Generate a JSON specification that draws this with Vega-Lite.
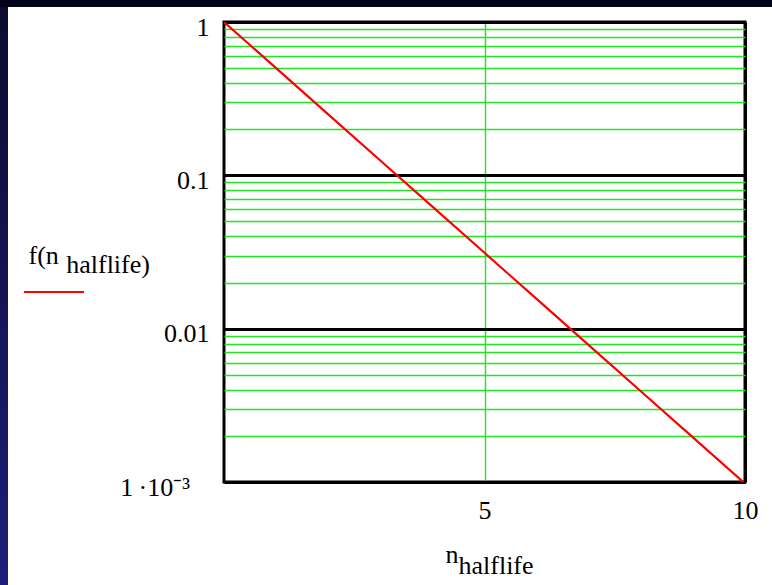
{
  "$schema": "https://vega.github.io/schema/vega-lite/v6.json",
  "padding": 0,
  "background": "white",
  "bounds": "flush",
  "spacing": 0,
  "vconcat": [
    {
      "width": 772,
      "height": 7,
      "data": {"values": [{"band": "top"}]},
      "mark": {"type": "rect", "fill": "#02021a", "strokeWidth": 0},
      "encoding": {}
    },
    {
      "bounds": "flush",
      "spacing": 216,
      "hconcat": [
        {
          "width": 8,
          "height": 578,
          "data": {"values": [{"band": "side"}]},
          "mark": {
            "type": "rect",
            "strokeWidth": 0,
            "fill": {
              "gradient": "linear",
              "x1": 0, "y1": 0, "x2": 0, "y2": 1,
              "stops": [
                {"offset": 0, "color": "#0b0b30"},
                {"offset": 1, "color": "#1e1e7a"}
              ]
            }
          },
          "encoding": {}
        },
        {
          "bounds": "flush",
          "spacing": 14,
          "vconcat": [
            {
              "width": 1,
              "height": 1,
              "data": {"values": []},
              "mark": "point",
              "encoding": {}
            },
            {
              "width": 521,
              "height": 460,
              "view": {"stroke": "black", "strokeWidth": 3, "fill": "white"},
              "data": {
                "values": [
                  {"n": 0, "f": 1, "curve": "f"},
                  {"n": 1, "f": 0.5, "curve": "f"},
                  {"n": 2, "f": 0.25, "curve": "f"},
                  {"n": 3, "f": 0.125, "curve": "f"},
                  {"n": 4, "f": 0.0625, "curve": "f"},
                  {"n": 5, "f": 0.03125, "curve": "f"},
                  {"n": 6, "f": 0.015625, "curve": "f"},
                  {"n": 7, "f": 0.0078125, "curve": "f"},
                  {"n": 8, "f": 0.00390625, "curve": "f"},
                  {"n": 9, "f": 0.001953125, "curve": "f"},
                  {"n": 10, "f": 0.0009765625, "curve": "f"}
                ]
              },
              "mark": {"type": "line", "strokeWidth": 2.2, "clip": true},
              "encoding": {
                "x": {
                  "field": "n",
                  "type": "quantitative",
                  "scale": {"domain": [0, 10], "nice": false, "zero": false},
                  "axis": {
                    "values": [5, 10],
                    "grid": true,
                    "gridColor": {"condition": {"test": "datum.value == 10", "value": "#000000"}, "value": "#22e622"},
                    "gridWidth": {"condition": {"test": "datum.value == 10", "value": 3}, "value": 1.4},
                    "domain": false,
                    "ticks": false,
                    "labelFont": "Liberation Serif",
                    "labelFontSize": 26,
                    "labelColor": "black",
                    "labelBaseline": "top",
                    "labelPadding": 15,
                    "labelFlush": false,
                    "labelOverlap": false,
                    "title": ["n", "\u200b\u00a0\u00a0halflife"],
                    "titleFont": "Liberation Serif",
                    "titleFontSize": 26,
                    "titleFontWeight": "normal",
                    "titleColor": "black",
                    "titleAlign": "left",
                    "titleBaseline": "alphabetic",
                    "titleLineHeight": 11,
                    "titleX": 221,
                    "titleY": 80
                  }
                },
                "y": {
                  "field": "f",
                  "type": "quantitative",
                  "scale": {"type": "log", "domain": [0.001, 1], "nice": false},
                  "axis": {
                    "values": [1, 0.9, 0.8, 0.7, 0.6, 0.5, 0.4, 0.3, 0.2, 0.1, 0.09, 0.08, 0.07, 0.06, 0.05, 0.04, 0.03, 0.02, 0.01, 0.009, 0.008, 0.007, 0.006, 0.005, 0.004, 0.003, 0.002, 0.001],
                    "grid": true,
                    "gridColor": {"condition": {"test": "datum.value == 1 || datum.value == 0.1 || datum.value == 0.01 || datum.value == 0.001", "value": "#000000"}, "value": "#22e622"},
                    "gridWidth": {"condition": {"test": "datum.value == 1 || datum.value == 0.1 || datum.value == 0.01 || datum.value == 0.001", "value": 3}, "value": 1.4},
                    "domain": false,
                    "ticks": false,
                    "labelExpr": "datum.value == 1 ? '1' : datum.value == 0.1 ? '0.1' : datum.value == 0.01 ? '0.01' : datum.value == 0.001 ? '1\u2009·10⁻³\u00a0\u00a0\u00a0\u200b' : ''",
                    "labelFont": "Liberation Serif",
                    "labelFontSize": 26,
                    "labelColor": "black",
                    "labelBaseline": "middle",
                    "labelOffset": 5,
                    "labelPadding": 15,
                    "labelFlush": false,
                    "labelOverlap": false,
                    "title": ["f(n", "\u200b\u00a0\u00a0\u00a0\u00a0\u00a0\u2009halflife)"],
                    "titleFont": "Liberation Serif",
                    "titleFontSize": 26,
                    "titleFontWeight": "normal",
                    "titleColor": "black",
                    "titleAngle": 0,
                    "titleAlign": "left",
                    "titleBaseline": "alphabetic",
                    "titleLineHeight": 9,
                    "titleX": -196,
                    "titleY": 241
                  }
                },
                "color": {
                  "field": "curve",
                  "type": "nominal",
                  "scale": {"range": ["#ff0000"]},
                  "legend": {
                    "orient": "none",
                    "legendX": 23,
                    "legendY": 261,
                    "title": null,
                    "padding": 0,
                    "symbolType": "stroke",
                    "symbolSize": 3600,
                    "symbolStrokeWidth": 2,
                    "labelExpr": "''"
                  }
                }
              }
            }
          ]
        }
      ]
    }
  ],
  "config": {
    "view": {"stroke": null}
  }
}
